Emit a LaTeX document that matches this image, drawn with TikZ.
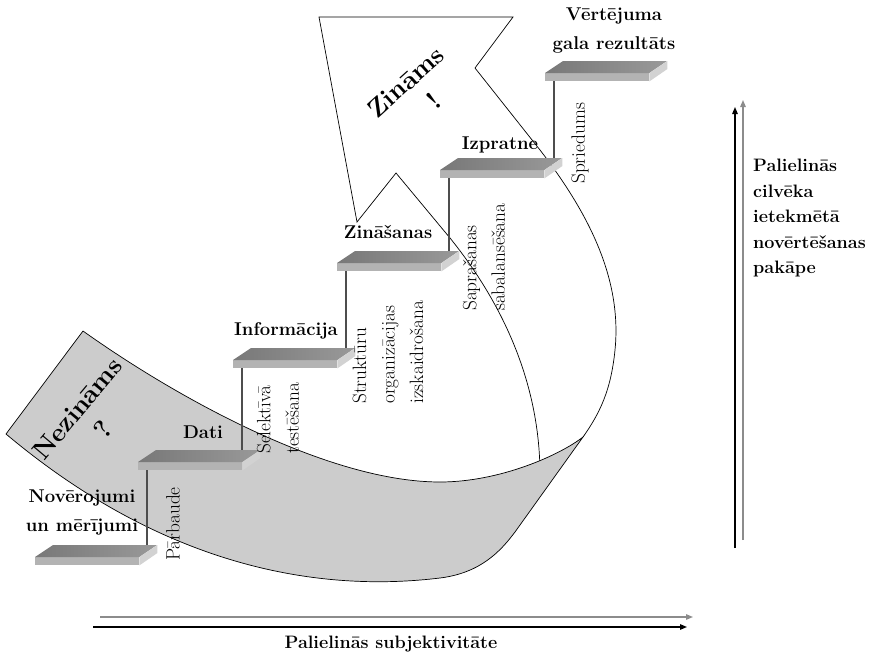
\documentclass[tikz,border=0pt]{standalone}
\usepackage{fontspec}
\usetikzlibrary{arrows.meta,calc}
\definecolor{bandgrey}{HTML}{CCCCCC}
\definecolor{plateF}{HTML}{B3B3B3}
\definecolor{plateTL}{HTML}{787878}
\definecolor{plateTR}{HTML}{999999}
\definecolor{plateS}{HTML}{D2D2D2}
\definecolor{riserC}{HTML}{4D4D4D}
\definecolor{axisgrey}{HTML}{8C8C8C}
\begin{document}
\begin{tikzpicture}[x=1pt,y=-1pt,
  outline/.style={draw=black, line width=0.7pt, line join=miter},
  bandfill/.style={fill=bandgrey, draw=black, line width=0.7pt},
  platefront/.style={fill=plateF, minimum width=104pt, minimum height=8pt, inner sep=0pt, anchor=north west},
  riser/.style={draw=riserC, line width=1.1pt},
  steplabel/.style={font=\fontsize{18.5}{29}\selectfont\bfseries, align=center, inner sep=0pt},
  actlabel/.style={font=\fontsize{19.3}{28.5}\selectfont, align=left, rotate=90, anchor=west, inner sep=0pt},
  biglabel/.style={font=\fontsize{26}{33}\selectfont\bfseries, align=center, inner sep=0pt},
  axisblack/.style={draw=black, line width=1.3pt, -{Triangle[length=7pt,width=5.5pt]}},
  axislight/.style={draw=axisgrey, line width=1.3pt, -{Triangle[length=7pt,width=5.5pt]}},
]
\path[use as bounding box] (0,0) rectangle (872,653);

% rising white part of the curved arrow, with its head
\draw[outline] (583,437) .. controls (600,413) and (611,390) .. (615,350)
  .. controls (622,280) and (590,215) .. (540,150) -- (475,68) -- (513,17)
  -- (319,17) -- (357,222) -- (396,173) -- (450,238)
  .. controls (500,300) and (540,380) .. (540,475);

% grey underside of the band (the tail)
\path[bandfill] (83,331) -- (6,434) .. controls (150,555) and (300,595) .. (440,578)
  .. controls (480,573) and (500,552) .. (515,532) -- (583,437)
  .. controls (560,455) and (500,482) .. (440,482)
  .. controls (330,482) and (180,400) .. (83,331) -- cycle;

\node[biglabel, rotate=50] (unknown) at (90,419) {Nezināms\\?};
\node[biglabel, rotate=42] (known) at (417,94) {Zināms\\\hspace*{16pt}!};

% the six steps
\foreach \n/\x/\y in {p1/35/557, p2/138/462, p3/233/360, p4/337/263, p5/440/170, p6/545/73} {
  \node[platefront] (\n) at (\x,\y) {};
  \shade[left color=plateTL, right color=plateTR]
    (\n.north west) -- ++(18,-12) -- ++(104,0) -- (\n.north east) -- cycle;
  \fill[plateS] (\n.north east) -- ++(18,-12) -- ++(0,8) -- (\n.south east) -- cycle;
  \coordinate (\n b) at ($(\n.north west)+(18,-12)$);
  \coordinate (\n r) at ($(\n.south west)+(9,0)$);
}

% risers between consecutive steps
\draw[riser] (p2r) -- (p2r |- p1b);
\draw[riser] (p3r) -- (p3r |- p2b);
\draw[riser] (p4r) -- (p4r |- p3b);
\draw[riser] (p5r) -- (p5r |- p4b);
\draw[riser] (p6r) -- (p6r |- p5b);

% step names
\node[steplabel] (l1) at (82,512) {Novērojumi\\un mērījumi};
\node[steplabel] (l2) at (203,432) {Dati};
\node[steplabel] (l3) at (286,331) {Informācija};
\node[steplabel] (l4) at (388,232) {Zināšanas};
\node[steplabel] (l5) at (500,145) {Izpratne};
\node[steplabel] (l6) at (614,31) {Vērtējuma\\gala rezultāts};

% activities along the risers
\node[actlabel] (a1) at (173,561) {Pārbaude};
\node[actlabel] (a2) at (278,454) {Selektīvā\\testēšana};
\node[actlabel] (a3) at (388,404) {Struktūru\\organizācijas\\izskaidrošana};
\node[actlabel] (a4) at (484,311) {Saprašanas\\sabalansēšana};
\node[actlabel] (a5) at (580,184) {Spriedums};

% axes
\coordinate (hg0) at (100,617); \coordinate (hg1) at (693,617);
\coordinate (hb0) at (93,627);  \coordinate (hb1) at (687,627);
\draw[axislight] (hg0) -- (hg1);
\draw[axisblack] (hb0) -- (hb1);
\node[steplabel, font=\fontsize{18}{29}\selectfont\bfseries] (haxis) at (391,644) {Palielinās subjektivitāte};

\coordinate (vg0) at (743,540); \coordinate (vg1) at (743,100);
\coordinate (vb0) at (735,548); \coordinate (vb1) at (735,107);
\draw[axislight] (vg0) -- (vg1);
\draw[axisblack] (vb0) -- (vb1);
\node[steplabel, align=left, anchor=north west, font=\fontsize{18}{25.5}\selectfont\bfseries] (vaxis) at (753,159)
  {Palielinās\\cilvēka\\ietekmētā\\novērtēšanas\\pakāpe};
\end{tikzpicture}
\end{document}
